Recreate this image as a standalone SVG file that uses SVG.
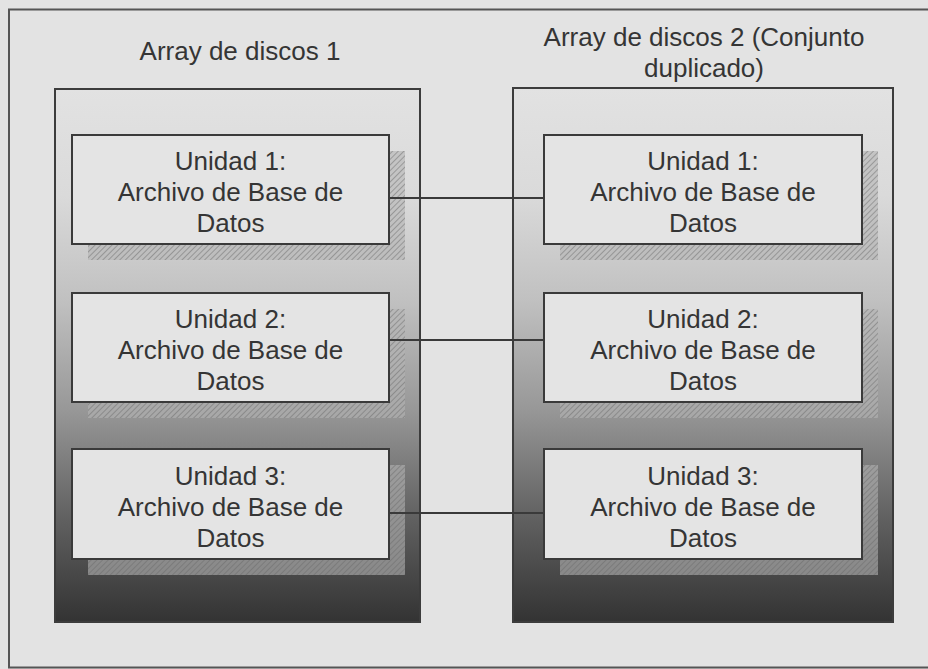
<svg xmlns="http://www.w3.org/2000/svg" width="928" height="669" viewBox="0 0 928 669">
<style>
text{font-family:"Liberation Sans",Arial,sans-serif;font-size:26px;fill:#353535;text-anchor:middle}
.cont{fill:url(#grad);stroke:#3c3c3c;stroke-width:2}
.box{fill:#e4e4e4;stroke:#3a3a3a;stroke-width:2}
.sh{fill:url(#hatch)}
.con{stroke:#3a3a3a;stroke-width:2;fill:none}
</style>
<defs>
<linearGradient id="grad" x1="0" y1="0" x2="0" y2="1">
<stop offset="0" stop-color="#e2e2e2"/>
<stop offset="0.2" stop-color="#dadada"/>
<stop offset="0.4" stop-color="#c0c0c0"/>
<stop offset="0.6" stop-color="#989898"/>
<stop offset="0.8" stop-color="#626262"/>
<stop offset="1" stop-color="#333"/>
</linearGradient>
<pattern id="hatch" width="4" height="4" patternUnits="userSpaceOnUse" patternTransform="rotate(45)">
<rect width="4" height="4" fill="#b4b4b4" fill-opacity="0.6"/>
<line x1="0" y1="0" x2="0" y2="4" stroke="#6a6a6a" stroke-opacity="0.6" stroke-width="1.6"/>
</pattern>
</defs>
<rect width="928" height="669" fill="#e3e3e3"/>
<rect x="9" y="9.5" width="940" height="658" fill="none" stroke="#555" stroke-width="2"/>
<g id="array1">
<rect class="cont" x="55" y="89" width="365" height="533"/>
<text x="240" y="60">Array de discos 1</text>
</g>
<g id="array2">
<rect class="cont" x="513" y="88" width="380" height="534"/>
<text x="704" y="46">Array de discos 2 (Conjunto</text>
<text x="704" y="77">duplicado)</text>
</g>
<g id="l1">
<rect class="sh" x="88" y="151" width="317" height="109"/>
<rect class="box" x="72" y="135" width="317" height="109"/>
<text x="230.5" y="170">Unidad 1:</text>
<text x="230.5" y="201">Archivo de Base de</text>
<text x="230.5" y="232">Datos</text>
</g>
<g id="l2">
<rect class="sh" x="88" y="309" width="317" height="109"/>
<rect class="box" x="72" y="293" width="317" height="109"/>
<text x="230.5" y="328">Unidad 2:</text>
<text x="230.5" y="359">Archivo de Base de</text>
<text x="230.5" y="390">Datos</text>
</g>
<g id="l3">
<rect class="sh" x="88" y="465" width="317" height="110"/>
<rect class="box" x="72" y="449" width="317" height="110"/>
<text x="230.5" y="485">Unidad 3:</text>
<text x="230.5" y="516">Archivo de Base de</text>
<text x="230.5" y="547">Datos</text>
</g>
<g id="r1">
<rect class="sh" x="560" y="151" width="318" height="109"/>
<rect class="box" x="544" y="135" width="318" height="109"/>
<text x="703" y="170">Unidad 1:</text>
<text x="703" y="201">Archivo de Base de</text>
<text x="703" y="232">Datos</text>
</g>
<g id="r2">
<rect class="sh" x="560" y="309" width="318" height="109"/>
<rect class="box" x="544" y="293" width="318" height="109"/>
<text x="703" y="328">Unidad 2:</text>
<text x="703" y="359">Archivo de Base de</text>
<text x="703" y="390">Datos</text>
</g>
<g id="r3">
<rect class="sh" x="560" y="465" width="318" height="110"/>
<rect class="box" x="544" y="449" width="318" height="110"/>
<text x="703" y="485">Unidad 3:</text>
<text x="703" y="516">Archivo de Base de</text>
<text x="703" y="547">Datos</text>
</g>
<g id="connectors">
<line class="con" x1="389" y1="198" x2="544" y2="198"/>
<line class="con" x1="389" y1="340" x2="544" y2="340"/>
<line class="con" x1="389" y1="513" x2="544" y2="513"/>
</g>
</svg>
